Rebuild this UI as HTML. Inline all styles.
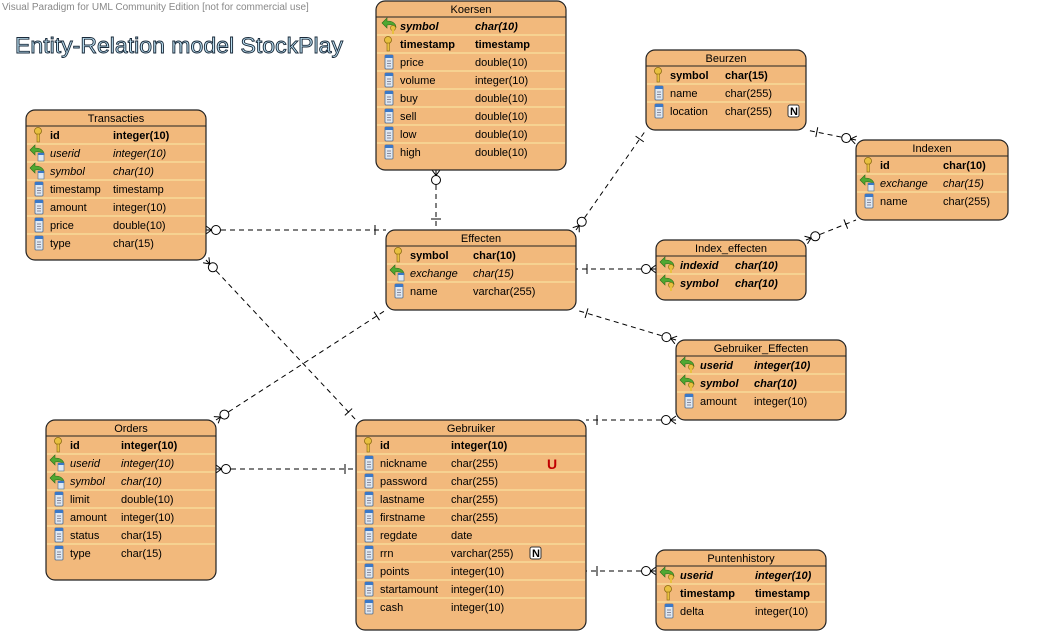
<!DOCTYPE html>
<html><head><meta charset="utf-8"><style>
html,body{margin:0;padding:0;background:#fff;width:1040px;height:634px;overflow:hidden}
svg{display:block;font-family:"Liberation Sans",Arial,sans-serif;font-size:11px}
.t{fill:#000}.h{font-size:11px;text-anchor:middle}
.b{font-weight:bold}.i{font-style:italic}
.box{fill:#F2B97C;stroke:#222;stroke-width:1.2}
.sep{stroke:#FBEBA6;stroke-width:1}
</style></head><body>
<svg id="s" width="1040" height="634" viewBox="0 0 1040 634">
<defs>
<g id="col"><rect x="0" y="-7" width="8" height="14" rx="1" fill="#dfe8f2" stroke="#4a6a90" stroke-width="0.8"/><rect x="0" y="-7" width="8" height="3" fill="#3a78c8"/><line x1="2" y1="-1" x2="6" y2="-1" stroke="#889"/><line x1="2" y1="1.5" x2="6" y2="1.5" stroke="#889"/><line x1="2" y1="4" x2="6" y2="4" stroke="#889"/></g>
<g id="key"><circle cx="4" cy="-4" r="3.5" fill="#e8c040" stroke="#8a6a10" stroke-width="0.8"/><rect x="3" y="-1" width="2.4" height="8" fill="#e8c040" stroke="#8a6a10" stroke-width="0.6"/></g>
<g id="fk"><path d="M-3,-3 L2,-8 L2,-5 Q10,-5 11,1 Q8,-2 2,-1 L2,2 Z" fill="#4fa832" stroke="#2d6a1a" stroke-width="0.6"/><rect x="5" y="0" width="6" height="8" fill="#dfe8f2" stroke="#4a6a90" stroke-width="0.6"/><rect x="5" y="0" width="6" height="2" fill="#3a78c8"/></g>
<g id="fkk"><path d="M-3,-3 L2,-8 L2,-5 Q10,-5 11,1 Q8,-2 2,-1 L2,2 Z" fill="#4fa832" stroke="#2d6a1a" stroke-width="0.6"/><circle cx="8" cy="2" r="2.6" fill="#e8c040" stroke="#8a6a10" stroke-width="0.6"/><rect x="7" y="3" width="2" height="5" fill="#e8c040"/></g>
</defs>
<text x="2" y="10" fill="#888" style="font-size:10px">Visual Paradigm for UML Community Edition [not for commercial use]</text>
<text x="15" y="53" fill="#bfe3f5" stroke="#1a2a3a" stroke-width="0.9" textLength="328" lengthAdjust="spacingAndGlyphs" style="font-size:22px">Entity-Relation model StockPlay</text>
<g id="conn" stroke="#000" fill="none"></g>

<!-- Koersen -->
<g transform="translate(376,1)"><rect class="box" width="190" height="169" rx="9"/><line x1="0" y1="16" x2="190" y2="16" stroke="#222"/>
<text class="h" x="95" y="12">Koersen</text>
<g class="sep"><line x1="1" y1="34" x2="189" y2="34"/><line x1="1" y1="52" x2="189" y2="52"/><line x1="1" y1="70" x2="189" y2="70"/><line x1="1" y1="88" x2="189" y2="88"/><line x1="1" y1="106" x2="189" y2="106"/><line x1="1" y1="124" x2="189" y2="124"/><line x1="1" y1="142" x2="189" y2="142"/></g>
<use href="#fkk" x="9" y="25"/><use href="#key" x="8" y="43"/><use href="#col" x="9" y="61"/><use href="#col" x="9" y="79"/><use href="#col" x="9" y="97"/><use href="#col" x="9" y="115"/><use href="#col" x="9" y="133"/><use href="#col" x="9" y="151"/>
<text x="24" y="29" class="b i">symbol</text><text x="99" y="29" class="b i">char(10)</text>
<text x="24" y="47" class="b">timestamp</text><text x="99" y="47" class="b">timestamp</text>
<text x="24" y="65">price</text><text x="99" y="65">double(10)</text>
<text x="24" y="83">volume</text><text x="99" y="83">integer(10)</text>
<text x="24" y="101">buy</text><text x="99" y="101">double(10)</text>
<text x="24" y="119">sell</text><text x="99" y="119">double(10)</text>
<text x="24" y="137">low</text><text x="99" y="137">double(10)</text>
<text x="24" y="155">high</text><text x="99" y="155">double(10)</text>
</g>

<!-- Transacties -->
<g transform="translate(26,110)"><rect class="box" width="180" height="150" rx="9"/><line x1="0" y1="16" x2="180" y2="16" stroke="#222"/>
<text class="h" x="90" y="12">Transacties</text>
<g class="sep"><line x1="1" y1="34" x2="179" y2="34"/><line x1="1" y1="52" x2="179" y2="52"/><line x1="1" y1="70" x2="179" y2="70"/><line x1="1" y1="88" x2="179" y2="88"/><line x1="1" y1="106" x2="179" y2="106"/><line x1="1" y1="124" x2="179" y2="124"/></g>
<use href="#key" x="8" y="25"/><use href="#fk" x="7" y="43"/><use href="#fk" x="7" y="61"/><use href="#col" x="9" y="79"/><use href="#col" x="9" y="97"/><use href="#col" x="9" y="115"/><use href="#col" x="9" y="133"/>
<text x="24" y="29" class="b">id</text><text x="87" y="29" class="b">integer(10)</text>
<text x="24" y="47" class="i">userid</text><text x="87" y="47" class="i">integer(10)</text>
<text x="24" y="65" class="i">symbol</text><text x="87" y="65" class="i">char(10)</text>
<text x="24" y="83">timestamp</text><text x="87" y="83">timestamp</text>
<text x="24" y="101">amount</text><text x="87" y="101">integer(10)</text>
<text x="24" y="119">price</text><text x="87" y="119">double(10)</text>
<text x="24" y="137">type</text><text x="87" y="137">char(15)</text>
</g>

<!-- Beurzen -->
<g transform="translate(646,50)"><rect class="box" width="160" height="80" rx="9"/><line x1="0" y1="16" x2="160" y2="16" stroke="#222"/>
<text class="h" x="80" y="12">Beurzen</text>
<g class="sep"><line x1="1" y1="34" x2="159" y2="34"/><line x1="1" y1="52" x2="159" y2="52"/></g>
<use href="#key" x="8" y="25"/><use href="#col" x="9" y="43"/><use href="#col" x="9" y="61"/>
<text x="24" y="29" class="b">symbol</text><text x="79" y="29" class="b">char(15)</text>
<text x="24" y="47">name</text><text x="79" y="47">char(255)</text>
<text x="24" y="65">location</text><text x="79" y="65">char(255)</text>
<rect x="142" y="55" width="11" height="12" rx="2" fill="#fff" stroke="#333"/><text x="144" y="65" class="b" style="font-size:11px">N</text>
</g>

<!-- Indexen -->
<g transform="translate(856,140)"><rect class="box" width="152" height="80" rx="9"/><line x1="0" y1="16" x2="152" y2="16" stroke="#222"/>
<text class="h" x="76" y="12">Indexen</text>
<g class="sep"><line x1="1" y1="34" x2="151" y2="34"/><line x1="1" y1="52" x2="151" y2="52"/></g>
<use href="#key" x="8" y="25"/><use href="#fk" x="7" y="43"/><use href="#col" x="9" y="61"/>
<text x="24" y="29" class="b">id</text><text x="87" y="29" class="b">char(10)</text>
<text x="24" y="47" class="i">exchange</text><text x="87" y="47" class="i">char(15)</text>
<text x="24" y="65">name</text><text x="87" y="65">char(255)</text>
</g>

<!-- Effecten -->
<g transform="translate(386,230)"><rect class="box" width="190" height="80" rx="9"/><line x1="0" y1="16" x2="190" y2="16" stroke="#222"/>
<text class="h" x="95" y="12">Effecten</text>
<g class="sep"><line x1="1" y1="34" x2="189" y2="34"/><line x1="1" y1="52" x2="189" y2="52"/></g>
<use href="#key" x="8" y="25"/><use href="#fk" x="7" y="43"/><use href="#col" x="9" y="61"/>
<text x="24" y="29" class="b">symbol</text><text x="87" y="29" class="b">char(10)</text>
<text x="24" y="47" class="i">exchange</text><text x="87" y="47" class="i">char(15)</text>
<text x="24" y="65">name</text><text x="87" y="65">varchar(255)</text>
</g>

<!-- Index_effecten -->
<g transform="translate(656,240)"><rect class="box" width="150" height="60" rx="9"/><line x1="0" y1="16" x2="150" y2="16" stroke="#222"/>
<text class="h" x="75" y="12">Index_effecten</text>
<g class="sep"><line x1="1" y1="34" x2="149" y2="34"/></g>
<use href="#fkk" x="7" y="25"/><use href="#fkk" x="7" y="43"/>
<text x="24" y="29" class="b i">indexid</text><text x="79" y="29" class="b i">char(10)</text>
<text x="24" y="47" class="b i">symbol</text><text x="79" y="47" class="b i">char(10)</text>
</g>

<!-- Gebruiker_Effecten -->
<g transform="translate(676,340)"><rect class="box" width="170" height="80" rx="9"/><line x1="0" y1="16" x2="170" y2="16" stroke="#222"/>
<text class="h" x="85" y="12">Gebruiker_Effecten</text>
<g class="sep"><line x1="1" y1="34" x2="169" y2="34"/><line x1="1" y1="52" x2="169" y2="52"/></g>
<use href="#fkk" x="7" y="25"/><use href="#fkk" x="7" y="43"/><use href="#col" x="9" y="61"/>
<text x="24" y="29" class="b i">userid</text><text x="78" y="29" class="b i">integer(10)</text>
<text x="24" y="47" class="b i">symbol</text><text x="78" y="47" class="b i">char(10)</text>
<text x="24" y="65">amount</text><text x="78" y="65">integer(10)</text>
</g>

<!-- Orders -->
<g transform="translate(46,420)"><rect class="box" width="170" height="160" rx="9"/><line x1="0" y1="16" x2="170" y2="16" stroke="#222"/>
<text class="h" x="85" y="12">Orders</text>
<g class="sep"><line x1="1" y1="34" x2="169" y2="34"/><line x1="1" y1="52" x2="169" y2="52"/><line x1="1" y1="70" x2="169" y2="70"/><line x1="1" y1="88" x2="169" y2="88"/><line x1="1" y1="106" x2="169" y2="106"/><line x1="1" y1="124" x2="169" y2="124"/></g>
<use href="#key" x="8" y="25"/><use href="#fk" x="7" y="43"/><use href="#fk" x="7" y="61"/><use href="#col" x="9" y="79"/><use href="#col" x="9" y="97"/><use href="#col" x="9" y="115"/><use href="#col" x="9" y="133"/>
<text x="24" y="29" class="b">id</text><text x="75" y="29" class="b">integer(10)</text>
<text x="24" y="47" class="i">userid</text><text x="75" y="47" class="i">integer(10)</text>
<text x="24" y="65" class="i">symbol</text><text x="75" y="65" class="i">char(10)</text>
<text x="24" y="83">limit</text><text x="75" y="83">double(10)</text>
<text x="24" y="101">amount</text><text x="75" y="101">integer(10)</text>
<text x="24" y="119">status</text><text x="75" y="119">char(15)</text>
<text x="24" y="137">type</text><text x="75" y="137">char(15)</text>
</g>

<!-- Gebruiker -->
<g transform="translate(356,420)"><rect class="box" width="230" height="210" rx="9"/><line x1="0" y1="16" x2="230" y2="16" stroke="#222"/>
<text class="h" x="115" y="12">Gebruiker</text>
<g class="sep"><line x1="1" y1="34" x2="229" y2="34"/><line x1="1" y1="52" x2="229" y2="52"/><line x1="1" y1="70" x2="229" y2="70"/><line x1="1" y1="88" x2="229" y2="88"/><line x1="1" y1="106" x2="229" y2="106"/><line x1="1" y1="124" x2="229" y2="124"/><line x1="1" y1="142" x2="229" y2="142"/><line x1="1" y1="160" x2="229" y2="160"/><line x1="1" y1="178" x2="229" y2="178"/></g>
<use href="#key" x="8" y="25"/><use href="#col" x="9" y="43"/><use href="#col" x="9" y="61"/><use href="#col" x="9" y="79"/><use href="#col" x="9" y="97"/><use href="#col" x="9" y="115"/><use href="#col" x="9" y="133"/><use href="#col" x="9" y="151"/><use href="#col" x="9" y="169"/><use href="#col" x="9" y="187"/>
<text x="24" y="29" class="b">id</text><text x="95" y="29" class="b">integer(10)</text>
<text x="24" y="47">nickname</text><text x="95" y="47">char(255)</text>
<text x="24" y="65">password</text><text x="95" y="65">char(255)</text>
<text x="24" y="83">lastname</text><text x="95" y="83">char(255)</text>
<text x="24" y="101">firstname</text><text x="95" y="101">char(255)</text>
<text x="24" y="119">regdate</text><text x="95" y="119">date</text>
<text x="24" y="137">rrn</text><text x="95" y="137">varchar(255)</text>
<text x="24" y="155">points</text><text x="95" y="155">integer(10)</text>
<text x="24" y="173">startamount</text><text x="95" y="173">integer(10)</text>
<text x="24" y="191">cash</text><text x="95" y="191">integer(10)</text>
<text x="191" y="49" class="b" style="font-size:14px;fill:#c00000">U</text>
<rect x="174" y="127" width="11" height="12" rx="2" fill="#fff" stroke="#333"/><text x="176" y="137" class="b">N</text>
</g>

<!-- Puntenhistory -->
<g transform="translate(656,550)"><rect class="box" width="170" height="80" rx="9"/><line x1="0" y1="16" x2="170" y2="16" stroke="#222"/>
<text class="h" x="85" y="12">Puntenhistory</text>
<g class="sep"><line x1="1" y1="34" x2="169" y2="34"/><line x1="1" y1="52" x2="169" y2="52"/></g>
<use href="#fkk" x="7" y="25"/><use href="#key" x="8" y="43"/><use href="#col" x="9" y="61"/>
<text x="24" y="29" class="b i">userid</text><text x="99" y="29" class="b i">integer(10)</text>
<text x="24" y="47" class="b">timestamp</text><text x="99" y="47" class="b">timestamp</text>
<text x="24" y="65">delta</text><text x="99" y="65">integer(10)</text>
</g>
</svg>
<script>
(function(){
var g=document.getElementById('conn'),NS='http://www.w3.org/2000/svg';
function el(t,a){var e=document.createElementNS(NS,t);for(var k in a)e.setAttribute(k,a[k]);g.appendChild(e);}
var C=[[436,170,436,230],[206,230,386,230],[206,260,356,420],[216,420,386,310],[216,469,356,469],[576,230,646,130],[856,140,806,130],[806,240,856,220],[656,269,576,269],[676,340,576,310],[676,420,586,420],[656,571,586,571]];
C.forEach(function(c){
var ax=c[0],ay=c[1],bx=c[2],by=c[3],dx=bx-ax,dy=by-ay,L=Math.hypot(dx,dy),ux=dx/L,uy=dy/L,px=-uy,py=ux;
el('line',{x1:ax+ux*15,y1:ay+uy*15,x2:bx,y2:by,'stroke-dasharray':'5,4',stroke:'#000'});
var cx=ax+ux*10,cy=ay+uy*10;
el('circle',{cx:cx,cy:cy,r:4.5,fill:'#fff',stroke:'#000'});
var fx=ax+ux*5.5,fy=ay+uy*5.5;
el('line',{x1:fx,y1:fy,x2:ax+px*4,y2:ay+py*4,stroke:'#000'});
el('line',{x1:fx,y1:fy,x2:ax-px*4,y2:ay-py*4,stroke:'#000'});
el('line',{x1:fx,y1:fy,x2:ax,y2:ay,stroke:'#000'});
var qx=bx-ux*11,qy=by-uy*11;
el('line',{x1:qx+px*5,y1:qy+py*5,x2:qx-px*5,y2:qy-py*5,stroke:'#000'});
});
})();
</script>
</body></html>
